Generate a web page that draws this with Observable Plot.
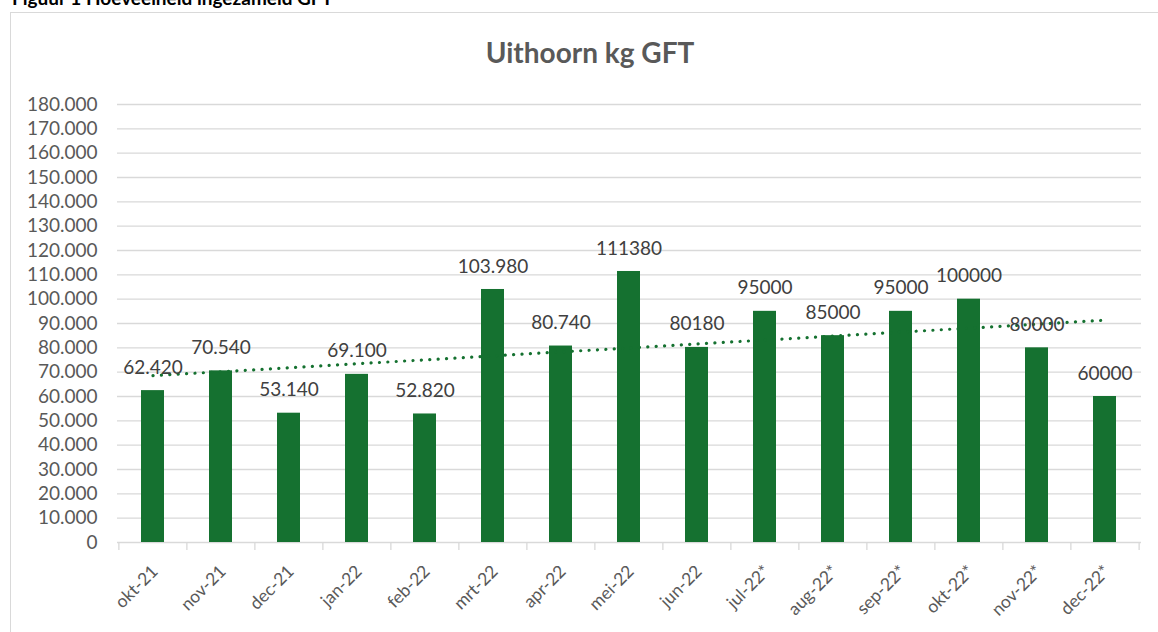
<!DOCTYPE html>
<html>
<head>
<meta charset="utf-8">
<script src="https://cdn.jsdelivr.net/npm/d3@7"></script>
<script src="https://cdn.jsdelivr.net/npm/@observablehq/plot@0.6"></script>
<style>
  body { margin: 0; background: #fff; font-family: Lato, sans-serif; }
  #wrap { position: relative; width: 1158px; height: 632px; overflow: hidden; background: #fff; }
  #caption { position: absolute; left: 12px; top: -12px; font: bold 19px/19px Lato, sans-serif; color: #000; white-space: nowrap; }
  #frame { position: absolute; left: 10px; top: 12px; width: 1300px; height: 800px; border: 1px solid #d9d9d9; box-sizing: border-box; }
  #title { position: absolute; left: 0; width: 1180px; top: 38px; text-align: center; font: bold 28px/28px Lato, sans-serif; color: #595959; }
  #chart { position: absolute; left: 0; top: 80px; }
</style>
</head>
<body>
<div id="wrap">
  <div id="caption">Figuur 1 Hoeveelheid ingezameld GFT</div>
  <div id="frame"></div>
  <div id="title">Uithoorn kg GFT</div>
  <div id="chart"></div>
</div>
<script>
// ---- data ----
const months = ["okt-21","nov-21","dec-21","jan-22","feb-22","mrt-22","apr-22","mei-22","jun-22","jul-22*","aug-22*","sep-22*","okt-22*","nov-22*","dec-22*"];
const values = [62420, 70540, 53140, 69100, 52820, 103980, 80740, 111380, 80180, 95000, 85000, 95000, 100000, 80000, 60000];
const labels = ["62.420","70.540","53.140","69.100","52.820","103.980","80.740","111380","80180","95000","85000","95000","100000","80000","60000"];
const yTicks = [0,10000,20000,30000,40000,50000,60000,70000,80000,90000,100000,110000,120000,130000,140000,150000,160000,170000,180000];

const data = months.map((m, i) => ({m, v: values[i], label: labels[i]}));

// linear trend line (least squares over category index)
const n = values.length;
const xs = values.map((_, i) => i + 1);
const mx = d3.mean(xs), my = d3.mean(values);
const slope = d3.sum(xs.map((x, i) => (x - mx) * (values[i] - my))) / d3.sum(xs.map(x => (x - mx) ** 2));
const icpt = my - slope * mx;
const trend = [
  {m: months[0], v: icpt + slope * 1},
  {m: months[n - 1], v: icpt + slope * n}
];

const fmt = d3.formatLocale({decimal: ",", thousands: ".", grouping: [3], currency: ["", ""]}).format(",");

const W = 1158, H = 552, mL = 117, mR = 17, mT = 24, mB = 90;
const step = (W - mL - mR) / months.length;
const green = "#157130";
const axisColor = "#595959";

const chart = Plot.plot({
  width: W, height: H,
  marginLeft: mL, marginRight: mR, marginTop: mT, marginBottom: mB,
  style: {fontFamily: "Lato, sans-serif", fontSize: "19px", color: axisColor, background: "transparent"},
  x: {domain: months, paddingInner: 0.66, paddingOuter: 0.33, axis: null},
  y: {domain: [0, 180000], axis: null},
  marks: [
    Plot.ruleY(yTicks, {y: d => d, stroke: "#d9d9d9", strokeWidth: 1.3}),
    Plot.ruleX(months, {x: d => d, y1: 0, y2: 0, insetTop: 0, insetBottom: -8, dx: -step / 2, stroke: "#d9d9d9", strokeWidth: 1.3}),
    Plot.ruleX([months[n - 1]], {x: d => d, y1: 0, y2: 0, insetTop: 0, insetBottom: -8, dx: step / 2, stroke: "#d9d9d9", strokeWidth: 1.3}),
    Plot.barY(data, {x: "m", y: "v", fill: green}),
    Plot.line(trend, {x: "m", y: "v", stroke: green, strokeWidth: 3.2, strokeDasharray: "0.1,8.3", strokeLinecap: "round"}),
    Plot.text(data, {x: "m", y: "v", text: "label", dy: -23, fill: "#404040", fontSize: 19}),
    // y tick labels
    Plot.text(yTicks, {y: d => d, text: d => fmt(d), frameAnchor: "left", textAnchor: "end", dx: -20, fill: axisColor, fontSize: 19}),
    // x tick labels
    Plot.text(months, {x: d => d, text: d => d, frameAnchor: "bottom", textAnchor: "end", rotate: -45, dx: 6, dy: 30, fill: axisColor, fontSize: 17.5})
  ]
});
document.getElementById("chart").appendChild(chart);
</script>
</body>
</html>
